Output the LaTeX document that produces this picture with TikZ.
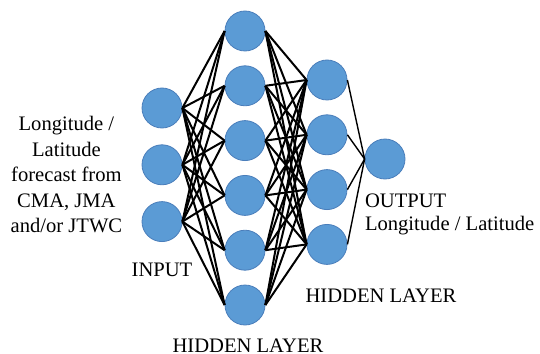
\documentclass[tikz,border=0pt]{standalone}
\usepackage{fontspec}
\setmainfont{Liberation Serif}
\newfontfamily\lblfont{Liberation Serif}
\usetikzlibrary{positioning}
\definecolor{nodeblue}{HTML}{5B9BD5}
\definecolor{nodeedge}{HTML}{4A7EBB}

\begin{document}
\begin{tikzpicture}[
        neuron/.style={circle, fill=nodeblue, draw=nodeedge, line width=0.4pt, minimum size=20pt, inner sep=0pt},
        lbl/.style={inner sep=0pt, font=\lblfont\fontsize{10.3}{12.75}\selectfont},
        conn/.style={line width=1pt, black},
        oconn/.style={line width=0.7pt, black},
      ]
      \useasboundingbox (0,0) rectangle (270pt,-176.5pt);

      % input layer
      \node[neuron] (in1) at (81pt,-54pt) {};
      \node[neuron, below=8pt of in1] (in2) {};
      \node[neuron, below=8pt of in2] (in3) {};

      % first hidden layer
      \node[neuron] (ha1) at (122.5pt,-15.5pt) {};
      \node[neuron, below=7pt of ha1] (ha2) {};
      \node[neuron, below=7pt of ha2] (ha3) {};
      \node[neuron, below=7pt of ha3] (ha4) {};
      \node[neuron, below=7pt of ha4] (ha5) {};
      \node[neuron, below=7pt of ha5] (ha6) {};

      % second hidden layer
      \node[neuron] (hb1) at (163.5pt,-40pt) {};
      \node[neuron, below=7pt of hb1] (hb2) {};
      \node[neuron, below=7pt of hb2] (hb3) {};
      \node[neuron, below=7pt of hb3] (hb4) {};

      \node[neuron] (out) at (192.5pt,-79.5pt) {};

      \foreach \i in {1,2,3}
        \foreach \j in {1,...,6}
          \draw[conn] (in\i.east) -- (ha\j.west);
      \foreach \i in {1,...,6}
        \foreach \j in {1,...,4}
          \draw[conn] (ha\i.east) -- (hb\j.west);
      \foreach \i in {1,...,4}
        \draw[oconn] (hb\i.east) -- (out.west);

      % labels
      \node[lbl, align=center, left=9.5pt of in2, yshift=-5pt] (inlbl) {Longitude /\\Latitude\\forecast from\\CMA, JMA\\and/or JTWC};
      \node[lbl, below=10.5pt of in3] (inputlbl) {INPUT};
      \node[lbl, below=6.5pt of ha6, xshift=1.5pt] (halbl) {HIDDEN LAYER};
      \node[lbl, below=12pt of hb4, xshift=27pt] (hblbl) {HIDDEN LAYER};
      \node[lbl, align=left, anchor=north west, font=\lblfont\fontsize{10.3}{11.5}\selectfont] (outlbl) at ([yshift=-7pt]out.west |- out.south) {OUTPUT\\Longitude / Latitude};

    \end{tikzpicture}
\end{document}
